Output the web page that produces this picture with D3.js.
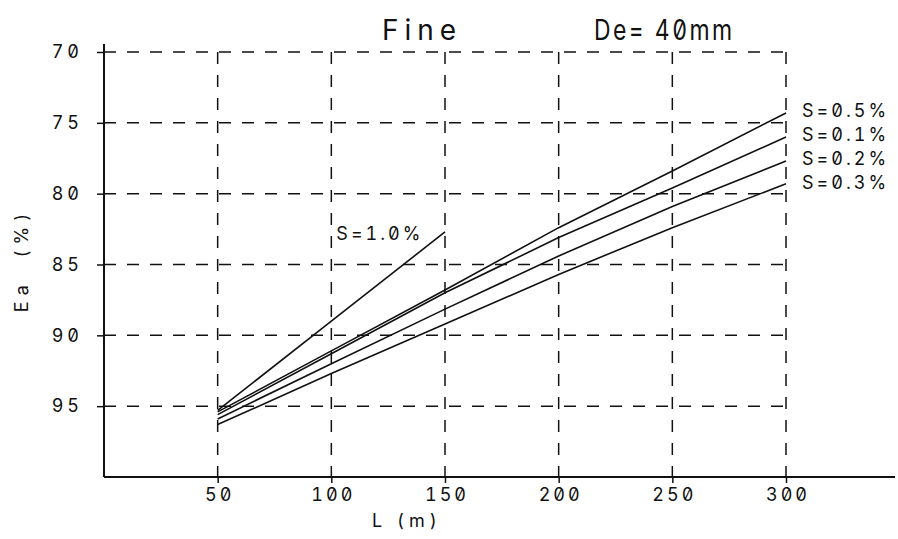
<!DOCTYPE html>
<html><head><meta charset="utf-8">
<script src="https://cdn.jsdelivr.net/npm/d3@7/dist/d3.min.js"></script>
<style>
body{margin:0;background:#fff}
svg text{font-family:Inter,"DejaVu Sans",sans-serif;font-feature-settings:"zero" 1,"tnum" 1;fill:#111}
</style></head><body>
<svg id="chart" width="898" height="539"></svg>
<script>
// Pipe length L (m) at which each curve is evaluated
const lengths = [50, 100, 150, 200, 250, 300];
// Application efficiency Ea (%) per slope
const seriesNames = ["S=0.5%", "S=0.1%", "S=0.2%", "S=0.3%"];
const eaS05 = [95.4, 91.1, 86.8, 82.4, 78.4, 74.3];
const eaS01 = [95.6, 91.3, 87.0, 83.1, 79.6, 76.0];
const eaS02 = [95.9, 92.0, 88.15, 84.4, 80.9, 77.7];
const eaS03 = [96.3, 92.7, 89.2, 85.7, 82.4, 79.3];
// Steepest slope only runs to 150 m
const lengthsS10 = [50, 100, 150];
const eaS10 = [95.3, 89.0, 82.7];
const labelS10 = "S=1.0%";
// Axis ticks
const xTicks = [50, 100, 150, 200, 250, 300];
const yTicks = [70, 75, 80, 85, 90, 95];
const titleLeft = "Fine";
const titleRight = "De= 40mm";
const xTitle = "L (m)";
const yTitle = "Ea  (%)";

const svg = d3.select("#chart");
const x = d3.scaleLinear().domain([0, 300]).range([104, 786]);
const y = d3.scaleLinear().domain([70, 100]).range([52, 477]);
const xEnd = 895;

// dashed grid
const grid = svg.append("g").attr("stroke", "#111").attr("stroke-width", 1.5)
  .attr("stroke-dasharray", "12,11").attr("fill", "none");
grid.selectAll("line.h").data(yTicks).join("line").attr("class", "h")
  .attr("x1", x(0)).attr("x2", x(300)).attr("y1", d => y(d)).attr("y2", d => y(d));
grid.selectAll("line.v").data(xTicks).join("line").attr("class", "v")
  .attr("x1", d => x(d)).attr("x2", d => x(d)).attr("y1", y(70)).attr("y2", y(100));

// axes
const xAxis = d3.axisBottom(x).tickValues(xTicks).tickSize(6).tickSizeOuter(0).tickPadding(5);
const gx = svg.append("g").attr("transform", `translate(0,${y(100)})`).call(xAxis);
gx.select(".domain").remove();
gx.append("line").attr("x1", x(0)).attr("x2", xEnd).attr("stroke", "#111").attr("stroke-width", 2);
gx.selectAll(".tick line").attr("stroke", "#111").attr("stroke-width", 1.5);
gx.selectAll(".tick text").attr("font-size", 18).attr("letter-spacing", 3).attr("dx", 1.5).attr("fill", "#111");

const yAxis = d3.axisLeft(y).tickValues(yTicks).tickSize(7).tickSizeOuter(0).tickPadding(14);
const gy = svg.append("g").attr("transform", `translate(${x(0)},0)`).call(yAxis);
gy.select(".domain").remove();
gy.append("line").attr("y1", y(70) - 8).attr("y2", y(100)).attr("stroke", "#111").attr("stroke-width", 2);
gy.selectAll(".tick line").attr("stroke", "#111").attr("stroke-width", 1.5);
gy.selectAll(".tick text").attr("font-size", 18).attr("letter-spacing", 4).attr("fill", "#111");

// curves
const line = d3.line().x(d => x(d[0])).y(d => y(d[1]));
const curves = [eaS05, eaS01, eaS02, eaS03].map(v => lengths.map((l, i) => [l, v[i]]));
curves.push(lengthsS10.map((l, i) => [l, eaS10[i]]));
svg.append("g").selectAll("path").data(curves).join("path")
  .attr("d", line).attr("fill", "none").attr("stroke", "#111").attr("stroke-width", 1.6);

// curve labels
svg.append("g").selectAll("text").data(seriesNames).join("text")
  .attr("x", x(300) + 16).attr("y", (d, i) => 117 + i * 24)
  .attr("font-size", 18).attr("letter-spacing", 3).text(d => d);
svg.append("text").attr("x", x(100) + 5).attr("y", y(eaS10[2]) + 8)
  .attr("font-size", 18).attr("letter-spacing", 3).text(labelS10);

// titles
svg.append("text").attr("x", 382).attr("y", 40).attr("font-size", 28).attr("letter-spacing", 6).text(titleLeft);
svg.append("text").attr("transform", "translate(594,40) scale(0.82,1)")
  .attr("font-size", 28).attr("letter-spacing", 3).text(titleRight);
svg.append("text").attr("x", 372).attr("y", 527).attr("font-size", 18).attr("letter-spacing", 5).text(xTitle);
svg.append("text").attr("transform", "translate(28,260) rotate(-90)").attr("text-anchor", "middle")
  .style("white-space", "pre").attr("font-size", 18).attr("letter-spacing", 6).text(yTitle);
</script></body></html>
